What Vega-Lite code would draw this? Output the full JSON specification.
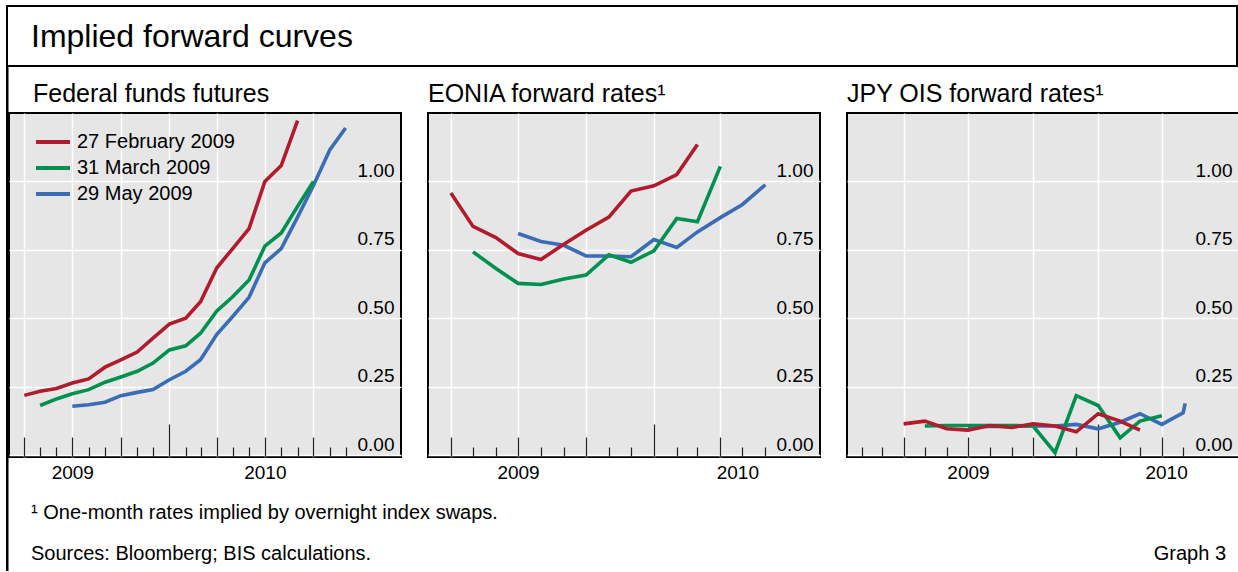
{
  "$schema": "https://vega.github.io/schema/vega-lite/v6.json",
  "padding": {"left": 6, "top": 5, "right": 0, "bottom": 0},
  "background": "white",
  "spacing": 0,
  "config": {
    "font": "Liberation Sans",
    "view": {"stroke": null},
    "title": {"color": "black", "fontWeight": "normal", "anchor": "start", "frame": "group", "font": "Liberation Sans"},
    "axis": {"labelFont": "Liberation Sans", "labelColor": "black", "labelFontSize": 19, "title": null},
    "legend": {"labelFont": "Liberation Sans", "labelColor": "black", "labelFontSize": 20}
  },
  "datasets": {
    "ff": [
      {"date": "2009-07-01", "series": "29 May 2009", "rate": 0.179},
      {"date": "2009-08-01", "series": "29 May 2009", "rate": 0.185},
      {"date": "2009-09-01", "series": "29 May 2009", "rate": 0.194},
      {"date": "2009-10-01", "series": "29 May 2009", "rate": 0.218},
      {"date": "2009-11-01", "series": "29 May 2009", "rate": 0.230},
      {"date": "2009-12-01", "series": "29 May 2009", "rate": 0.240},
      {"date": "2010-01-01", "series": "29 May 2009", "rate": 0.276},
      {"date": "2010-02-01", "series": "29 May 2009", "rate": 0.307},
      {"date": "2010-03-01", "series": "29 May 2009", "rate": 0.349},
      {"date": "2010-04-01", "series": "29 May 2009", "rate": 0.442},
      {"date": "2010-05-01", "series": "29 May 2009", "rate": 0.507},
      {"date": "2010-06-01", "series": "29 May 2009", "rate": 0.577},
      {"date": "2010-07-01", "series": "29 May 2009", "rate": 0.703},
      {"date": "2010-08-01", "series": "29 May 2009", "rate": 0.755},
      {"date": "2010-09-01", "series": "29 May 2009", "rate": 0.870},
      {"date": "2010-10-01", "series": "29 May 2009", "rate": 0.985},
      {"date": "2010-11-01", "series": "29 May 2009", "rate": 1.115},
      {"date": "2010-12-01", "series": "29 May 2009", "rate": 1.195},
      {"date": "2009-05-01", "series": "31 March 2009", "rate": 0.182},
      {"date": "2009-06-01", "series": "31 March 2009", "rate": 0.206},
      {"date": "2009-07-01", "series": "31 March 2009", "rate": 0.225},
      {"date": "2009-08-01", "series": "31 March 2009", "rate": 0.240},
      {"date": "2009-09-01", "series": "31 March 2009", "rate": 0.267},
      {"date": "2009-10-01", "series": "31 March 2009", "rate": 0.286},
      {"date": "2009-11-01", "series": "31 March 2009", "rate": 0.307},
      {"date": "2009-12-01", "series": "31 March 2009", "rate": 0.337},
      {"date": "2010-01-01", "series": "31 March 2009", "rate": 0.385},
      {"date": "2010-02-01", "series": "31 March 2009", "rate": 0.400},
      {"date": "2010-03-01", "series": "31 March 2009", "rate": 0.446},
      {"date": "2010-04-01", "series": "31 March 2009", "rate": 0.527},
      {"date": "2010-05-01", "series": "31 March 2009", "rate": 0.579},
      {"date": "2010-06-01", "series": "31 March 2009", "rate": 0.640},
      {"date": "2010-07-01", "series": "31 March 2009", "rate": 0.764},
      {"date": "2010-08-01", "series": "31 March 2009", "rate": 0.812},
      {"date": "2010-09-01", "series": "31 March 2009", "rate": 0.909},
      {"date": "2010-10-01", "series": "31 March 2009", "rate": 1.000},
      {"date": "2009-04-01", "series": "27 February 2009", "rate": 0.219},
      {"date": "2009-05-01", "series": "27 February 2009", "rate": 0.234},
      {"date": "2009-06-01", "series": "27 February 2009", "rate": 0.244},
      {"date": "2009-07-01", "series": "27 February 2009", "rate": 0.264},
      {"date": "2009-08-01", "series": "27 February 2009", "rate": 0.279},
      {"date": "2009-09-01", "series": "27 February 2009", "rate": 0.322},
      {"date": "2009-10-01", "series": "27 February 2009", "rate": 0.349},
      {"date": "2009-11-01", "series": "27 February 2009", "rate": 0.377},
      {"date": "2009-12-01", "series": "27 February 2009", "rate": 0.428},
      {"date": "2010-01-01", "series": "27 February 2009", "rate": 0.479},
      {"date": "2010-02-01", "series": "27 February 2009", "rate": 0.501},
      {"date": "2010-03-01", "series": "27 February 2009", "rate": 0.561},
      {"date": "2010-04-01", "series": "27 February 2009", "rate": 0.685},
      {"date": "2010-05-01", "series": "27 February 2009", "rate": 0.755},
      {"date": "2010-06-01", "series": "27 February 2009", "rate": 0.828},
      {"date": "2010-07-01", "series": "27 February 2009", "rate": 1.000},
      {"date": "2010-08-01", "series": "27 February 2009", "rate": 1.058},
      {"date": "2010-09-01", "series": "27 February 2009", "rate": 1.222}
    ],
    "eonia": [
      {"date": "2009-07-01", "series": "29 May 2009", "rate": 0.810},
      {"date": "2009-08-01", "series": "29 May 2009", "rate": 0.781},
      {"date": "2009-09-01", "series": "29 May 2009", "rate": 0.767},
      {"date": "2009-10-01", "series": "29 May 2009", "rate": 0.728},
      {"date": "2009-11-01", "series": "29 May 2009", "rate": 0.728},
      {"date": "2009-12-01", "series": "29 May 2009", "rate": 0.725},
      {"date": "2010-01-01", "series": "29 May 2009", "rate": 0.788},
      {"date": "2010-02-01", "series": "29 May 2009", "rate": 0.759},
      {"date": "2010-03-01", "series": "29 May 2009", "rate": 0.816},
      {"date": "2010-04-01", "series": "29 May 2009", "rate": 0.868},
      {"date": "2010-05-01", "series": "29 May 2009", "rate": 0.916},
      {"date": "2010-06-01", "series": "29 May 2009", "rate": 0.988},
      {"date": "2009-05-01", "series": "31 March 2009", "rate": 0.743},
      {"date": "2009-06-01", "series": "31 March 2009", "rate": 0.682},
      {"date": "2009-07-01", "series": "31 March 2009", "rate": 0.628},
      {"date": "2009-08-01", "series": "31 March 2009", "rate": 0.624},
      {"date": "2009-09-01", "series": "31 March 2009", "rate": 0.644},
      {"date": "2009-10-01", "series": "31 March 2009", "rate": 0.658},
      {"date": "2009-11-01", "series": "31 March 2009", "rate": 0.732},
      {"date": "2009-12-01", "series": "31 March 2009", "rate": 0.705},
      {"date": "2010-01-01", "series": "31 March 2009", "rate": 0.747},
      {"date": "2010-02-01", "series": "31 March 2009", "rate": 0.865},
      {"date": "2010-03-01", "series": "31 March 2009", "rate": 0.853},
      {"date": "2010-04-01", "series": "31 March 2009", "rate": 1.055},
      {"date": "2009-04-01", "series": "27 February 2009", "rate": 0.958},
      {"date": "2009-05-01", "series": "27 February 2009", "rate": 0.836},
      {"date": "2009-06-01", "series": "27 February 2009", "rate": 0.795},
      {"date": "2009-07-01", "series": "27 February 2009", "rate": 0.737},
      {"date": "2009-08-01", "series": "27 February 2009", "rate": 0.715},
      {"date": "2009-09-01", "series": "27 February 2009", "rate": 0.771},
      {"date": "2009-10-01", "series": "27 February 2009", "rate": 0.822},
      {"date": "2009-11-01", "series": "27 February 2009", "rate": 0.870},
      {"date": "2009-12-01", "series": "27 February 2009", "rate": 0.965},
      {"date": "2010-01-01", "series": "27 February 2009", "rate": 0.984},
      {"date": "2010-02-01", "series": "27 February 2009", "rate": 1.025},
      {"date": "2010-03-01", "series": "27 February 2009", "rate": 1.135}
    ],
    "jpy": [
      {"date": "2009-07-01", "series": "29 May 2009", "rate": 0.104},
      {"date": "2009-08-01", "series": "29 May 2009", "rate": 0.106},
      {"date": "2009-09-01", "series": "29 May 2009", "rate": 0.106},
      {"date": "2009-10-01", "series": "29 May 2009", "rate": 0.107},
      {"date": "2009-11-01", "series": "29 May 2009", "rate": 0.107},
      {"date": "2009-12-01", "series": "29 May 2009", "rate": 0.113},
      {"date": "2010-01-01", "series": "29 May 2009", "rate": 0.097},
      {"date": "2010-02-01", "series": "29 May 2009", "rate": 0.121},
      {"date": "2010-03-01", "series": "29 May 2009", "rate": 0.152},
      {"date": "2010-04-01", "series": "29 May 2009", "rate": 0.113},
      {"date": "2010-05-01", "series": "29 May 2009", "rate": 0.155},
      {"date": "2010-05-04", "series": "29 May 2009", "rate": 0.190},
      {"date": "2009-05-01", "series": "31 March 2009", "rate": 0.107},
      {"date": "2009-06-01", "series": "31 March 2009", "rate": 0.109},
      {"date": "2009-07-01", "series": "31 March 2009", "rate": 0.109},
      {"date": "2009-08-01", "series": "31 March 2009", "rate": 0.109},
      {"date": "2009-09-01", "series": "31 March 2009", "rate": 0.109},
      {"date": "2009-10-01", "series": "31 March 2009", "rate": 0.107},
      {"date": "2009-11-01", "series": "31 March 2009", "rate": 0.010},
      {"date": "2009-12-01", "series": "31 March 2009", "rate": 0.218},
      {"date": "2010-01-01", "series": "31 March 2009", "rate": 0.182},
      {"date": "2010-02-01", "series": "31 March 2009", "rate": 0.064},
      {"date": "2010-03-01", "series": "31 March 2009", "rate": 0.125},
      {"date": "2010-04-01", "series": "31 March 2009", "rate": 0.145},
      {"date": "2009-04-01", "series": "27 February 2009", "rate": 0.115},
      {"date": "2009-05-01", "series": "27 February 2009", "rate": 0.125},
      {"date": "2009-06-01", "series": "27 February 2009", "rate": 0.097},
      {"date": "2009-07-01", "series": "27 February 2009", "rate": 0.092},
      {"date": "2009-08-01", "series": "27 February 2009", "rate": 0.109},
      {"date": "2009-09-01", "series": "27 February 2009", "rate": 0.102},
      {"date": "2009-10-01", "series": "27 February 2009", "rate": 0.115},
      {"date": "2009-11-01", "series": "27 February 2009", "rate": 0.107},
      {"date": "2009-12-01", "series": "27 February 2009", "rate": 0.086},
      {"date": "2010-01-01", "series": "27 February 2009", "rate": 0.152},
      {"date": "2010-02-01", "series": "27 February 2009", "rate": 0.125},
      {"date": "2010-03-01", "series": "27 February 2009", "rate": 0.092}
    ],
    "blank": [{"t": ""}]
  },
  "vconcat": [
    {
      "width": 1230,
      "height": 60,
      "view": {"stroke": "black", "strokeWidth": 2, "fill": "white"},
      "title": {"text": "Implied forward curves", "fontSize": 32, "offset": -73, "baseline": "alphabetic", "dx": 24},
      "data": {"name": "blank"},
      "mark": {"type": "text"},
      "encoding": {"text": {"field": "t"}}
    },
    {
      "spacing": -3,
      "hconcat": [
        {
          "width": 0.5,
          "height": 502,
          "view": {"stroke": "black", "strokeWidth": 2},
          "data": {"name": "blank"},
          "mark": {"type": "text"},
          "encoding": {"text": {"field": "t"}}
        },
        {
          "spacing": 0,
          "vconcat": [
            {
              "width": 10,
              "height": 13,
              "data": {"name": "blank"},
              "mark": {"type": "text"},
              "encoding": {"text": {"field": "t"}}
            },
            {
              "spacing": 25,
              "resolve": {"scale": {"color": "independent", "x": "independent", "y": "independent"}, "legend": {"color": "independent"}},
              "hconcat": [
                {
                  "width": 392,
                  "height": 344,
                  "view": {"fill": "#e6e6e6", "stroke": "black", "strokeWidth": 2},
                  "title": {"text": "Federal funds futures", "fontSize": 25, "offset": -14, "baseline": "alphabetic", "dx": 24},
                  "data": {"name": "ff"},
                  "resolve": {"axis": {"x": "independent", "y": "independent"}},
                  "layer": [
                    {
                      "mark": {"type": "line", "strokeWidth": 3.6},
                      "encoding": {
                        "x": {
                          "field": "date", "type": "temporal",
                          "scale": {"domain": [{"year": 2009, "month": 3, "date": 3, "utc": true}, {"year": 2011, "month": 3, "date": 16, "utc": true}], "nice": false},
                          "axis": {
                            "orient": "bottom",
                            "values": [
                              {"year": 2009, "month": 4, "date": 1, "utc": true}, {"year": 2009, "month": 5, "date": 1, "utc": true}, {"year": 2009, "month": 6, "date": 1, "utc": true},
                              {"year": 2009, "month": 7, "date": 1, "utc": true}, {"year": 2009, "month": 8, "date": 1, "utc": true}, {"year": 2009, "month": 9, "date": 1, "utc": true},
                              {"year": 2009, "month": 10, "date": 1, "utc": true}, {"year": 2009, "month": 11, "date": 1, "utc": true}, {"year": 2009, "month": 12, "date": 1, "utc": true},
                              {"year": 2010, "month": 1, "date": 1, "utc": true}, {"year": 2010, "month": 2, "date": 1, "utc": true}, {"year": 2010, "month": 3, "date": 1, "utc": true},
                              {"year": 2010, "month": 4, "date": 1, "utc": true}, {"year": 2010, "month": 5, "date": 1, "utc": true}, {"year": 2010, "month": 6, "date": 1, "utc": true},
                              {"year": 2010, "month": 7, "date": 1, "utc": true}, {"year": 2010, "month": 8, "date": 1, "utc": true}, {"year": 2010, "month": 9, "date": 1, "utc": true},
                              {"year": 2010, "month": 10, "date": 1, "utc": true}, {"year": 2010, "month": 11, "date": 1, "utc": true}, {"year": 2010, "month": 12, "date": 1, "utc": true}
                            ],
                            "labels": false, "domain": false, "ticks": true,
                            "tickColor": "#222222", "tickWidth": 1.2,
                            "tickSize": {"condition": [{"test": "utcmonth(datum.value) === 0", "value": -33}, {"test": "utcmonth(datum.value) % 3 === 0", "value": -20}], "value": -10},
                            "grid": true, "gridColor": "white", "gridWidth": 1.5,
                            "gridOpacity": {"condition": {"test": "utcmonth(datum.value) % 3 === 0", "value": 1}, "value": 0},
                            "title": null
                          }
                        },
                        "y": {
                          "field": "rate", "type": "quantitative",
                          "scale": {"domain": [-0.006, 1.25], "nice": false, "zero": false},
                          "axis": {"orient": "right", "values": [0, 0.25, 0.5, 0.75, 1], "format": ".2f", "ticks": false, "domain": false, "grid": true, "gridColor": "white", "gridWidth": 1.5, "labelAlign": "right", "labelBaseline": "alphabetic", "labelPadding": -7, "labelOffset": -5, "title": null}
                        },
                        "color": {
                          "field": "series", "type": "nominal",
                          "scale": {"domain": ["27 February 2009", "31 March 2009", "29 May 2009"], "range": ["#b01c2e", "#00914f", "#3a6db5"]},
                          "legend": {"orient": "none", "legendX": 25, "legendY": 16, "title": null, "symbolType": "stroke", "symbolStrokeWidth": 4, "symbolSize": 1156, "labelOffset": 5, "rowPadding": 0, "clipHeight": 26, "padding": 0, "labelFontSize": 20}
                        }
                      }
                    },
                    {
                      "mark": {"type": "point", "opacity": 0},
                      "encoding": {
                        "x": {
                          "field": "date", "type": "temporal",
                          "axis": {"orient": "bottom", "values": [{"year": 2009, "month": 7, "date": 1, "utc": true}, {"year": 2010, "month": 7, "date": 1, "utc": true}], "format": "%Y", "ticks": false, "grid": false, "domain": false, "labelPadding": 21, "labelBaseline": "alphabetic", "labelFlush": false, "labelOverlap": false, "title": null}
                        },
                        "y": {"field": "rate", "type": "quantitative", "axis": null}
                      }
                    }
                  ]
                },
                {
                  "width": 392,
                  "height": 344,
                  "view": {"fill": "#e6e6e6", "stroke": "black", "strokeWidth": 2},
                  "title": {"text": "EONIA forward rates¹", "fontSize": 25, "offset": -14, "baseline": "alphabetic", "dx": 0},
                  "data": {"name": "eonia"},
                  "resolve": {"axis": {"x": "independent", "y": "independent"}},
                  "layer": [
                    {
                      "mark": {"type": "line", "strokeWidth": 3.6},
                      "encoding": {
                        "x": {
                          "field": "date", "type": "temporal",
                          "scale": {"domain": [{"year": 2009, "month": 3, "date": 1, "utc": true}, {"year": 2010, "month": 8, "date": 14, "utc": true}], "nice": false},
                          "axis": {
                            "orient": "bottom",
                            "values": [
                              {"year": 2009, "month": 4, "date": 1, "utc": true}, {"year": 2009, "month": 5, "date": 1, "utc": true}, {"year": 2009, "month": 6, "date": 1, "utc": true},
                              {"year": 2009, "month": 7, "date": 1, "utc": true}, {"year": 2009, "month": 8, "date": 1, "utc": true}, {"year": 2009, "month": 9, "date": 1, "utc": true},
                              {"year": 2009, "month": 10, "date": 1, "utc": true}, {"year": 2009, "month": 11, "date": 1, "utc": true}, {"year": 2009, "month": 12, "date": 1, "utc": true},
                              {"year": 2010, "month": 1, "date": 1, "utc": true}, {"year": 2010, "month": 2, "date": 1, "utc": true}, {"year": 2010, "month": 3, "date": 1, "utc": true},
                              {"year": 2010, "month": 4, "date": 1, "utc": true}, {"year": 2010, "month": 5, "date": 1, "utc": true}, {"year": 2010, "month": 6, "date": 1, "utc": true}
                            ],
                            "labels": false, "domain": false, "ticks": true,
                            "tickColor": "#222222", "tickWidth": 1.2,
                            "tickSize": {"condition": [{"test": "utcmonth(datum.value) === 0", "value": -33}, {"test": "utcmonth(datum.value) % 3 === 0", "value": -20}], "value": -10},
                            "grid": true, "gridColor": "white", "gridWidth": 1.5,
                            "gridOpacity": {"condition": {"test": "utcmonth(datum.value) % 3 === 0", "value": 1}, "value": 0},
                            "title": null
                          }
                        },
                        "y": {
                          "field": "rate", "type": "quantitative",
                          "scale": {"domain": [-0.006, 1.25], "nice": false, "zero": false},
                          "axis": {"orient": "right", "values": [0, 0.25, 0.5, 0.75, 1], "format": ".2f", "ticks": false, "domain": false, "grid": true, "gridColor": "white", "gridWidth": 1.5, "labelAlign": "right", "labelBaseline": "alphabetic", "labelPadding": -7, "labelOffset": -5, "title": null}
                        },
                        "color": {
                          "field": "series", "type": "nominal",
                          "scale": {"domain": ["27 February 2009", "31 March 2009", "29 May 2009"], "range": ["#b01c2e", "#00914f", "#3a6db5"]},
                          "legend": null
                        }
                      }
                    },
                    {
                      "mark": {"type": "point", "opacity": 0},
                      "encoding": {
                        "x": {
                          "field": "date", "type": "temporal",
                          "axis": {"orient": "bottom", "values": [{"year": 2009, "month": 7, "date": 1, "utc": true}, {"year": 2010, "month": 4, "date": 24, "utc": true}], "format": "%Y", "ticks": false, "grid": false, "domain": false, "labelPadding": 21, "labelBaseline": "alphabetic", "labelFlush": false, "labelOverlap": false, "title": null}
                        },
                        "y": {"field": "rate", "type": "quantitative", "axis": null}
                      }
                    }
                  ]
                },
                {
                  "width": 392,
                  "height": 344,
                  "view": {"fill": "#e6e6e6", "stroke": "black", "strokeWidth": 2},
                  "title": {"text": "JPY OIS forward rates¹", "fontSize": 25, "offset": -14, "baseline": "alphabetic", "dx": 0},
                  "data": {"name": "jpy"},
                  "resolve": {"axis": {"x": "independent", "y": "independent"}},
                  "layer": [
                    {
                      "mark": {"type": "line", "strokeWidth": 3.6},
                      "encoding": {
                        "x": {
                          "field": "date", "type": "temporal",
                          "scale": {"domain": [{"year": 2009, "month": 1, "date": 11, "utc": true}, {"year": 2010, "month": 7, "date": 19, "utc": true}], "nice": false},
                          "axis": {
                            "orient": "bottom",
                            "values": [
                              {"year": 2009, "month": 2, "date": 1, "utc": true}, {"year": 2009, "month": 3, "date": 1, "utc": true},
                              {"year": 2009, "month": 4, "date": 1, "utc": true}, {"year": 2009, "month": 5, "date": 1, "utc": true}, {"year": 2009, "month": 6, "date": 1, "utc": true},
                              {"year": 2009, "month": 7, "date": 1, "utc": true}, {"year": 2009, "month": 8, "date": 1, "utc": true}, {"year": 2009, "month": 9, "date": 1, "utc": true},
                              {"year": 2009, "month": 10, "date": 1, "utc": true}, {"year": 2009, "month": 11, "date": 1, "utc": true}, {"year": 2009, "month": 12, "date": 1, "utc": true},
                              {"year": 2010, "month": 1, "date": 1, "utc": true}, {"year": 2010, "month": 2, "date": 1, "utc": true}, {"year": 2010, "month": 3, "date": 1, "utc": true},
                              {"year": 2010, "month": 4, "date": 1, "utc": true}, {"year": 2010, "month": 5, "date": 1, "utc": true}
                            ],
                            "labels": false, "domain": false, "ticks": true,
                            "tickColor": "#222222", "tickWidth": 1.2,
                            "tickSize": {"condition": [{"test": "utcmonth(datum.value) === 0", "value": -33}, {"test": "utcmonth(datum.value) % 3 === 0", "value": -20}], "value": -10},
                            "grid": true, "gridColor": "white", "gridWidth": 1.5,
                            "gridOpacity": {"condition": {"test": "utcmonth(datum.value) % 3 === 0", "value": 1}, "value": 0},
                            "title": null
                          }
                        },
                        "y": {
                          "field": "rate", "type": "quantitative",
                          "scale": {"domain": [-0.006, 1.25], "nice": false, "zero": false},
                          "axis": {"orient": "right", "values": [0, 0.25, 0.5, 0.75, 1], "format": ".2f", "ticks": false, "domain": false, "grid": true, "gridColor": "white", "gridWidth": 1.5, "labelAlign": "right", "labelBaseline": "alphabetic", "labelPadding": -7, "labelOffset": -5, "title": null}
                        },
                        "color": {
                          "field": "series", "type": "nominal",
                          "scale": {"domain": ["27 February 2009", "31 March 2009", "29 May 2009"], "range": ["#b01c2e", "#00914f", "#3a6db5"]},
                          "legend": null
                        }
                      }
                    },
                    {
                      "mark": {"type": "point", "opacity": 0},
                      "encoding": {
                        "x": {
                          "field": "date", "type": "temporal",
                          "axis": {"orient": "bottom", "values": [{"year": 2009, "month": 7, "date": 1, "utc": true}, {"year": 2010, "month": 4, "date": 7, "utc": true}], "format": "%Y", "ticks": false, "grid": false, "domain": false, "labelPadding": 21, "labelBaseline": "alphabetic", "labelFlush": false, "labelOverlap": false, "title": null}
                        },
                        "y": {"field": "rate", "type": "quantitative", "axis": null}
                      }
                    }
                  ]
                }
              ]
            },
            {
              "spacing": 0,
              "hconcat": [
                {
                  "width": 900,
                  "height": 1,
                  "title": {"text": ["¹  One-month rates implied by overnight index swaps.", "Sources: Bloomberg; BIS calculations."], "orient": "bottom", "offset": 24, "baseline": "alphabetic", "lineHeight": 41, "fontSize": 20, "dx": 22},
                  "data": {"name": "blank"},
                  "mark": {"type": "text"},
                  "encoding": {"text": {"field": "t"}}
                },
                {
                  "width": 317,
                  "height": 1,
                  "title": {"text": "Graph 3", "orient": "bottom", "anchor": "end", "offset": 65, "baseline": "alphabetic", "fontSize": 20},
                  "data": {"name": "blank"},
                  "mark": {"type": "text"},
                  "encoding": {"text": {"field": "t"}}
                }
              ]
            }
          ]
        }
      ]
    }
  ]
}
